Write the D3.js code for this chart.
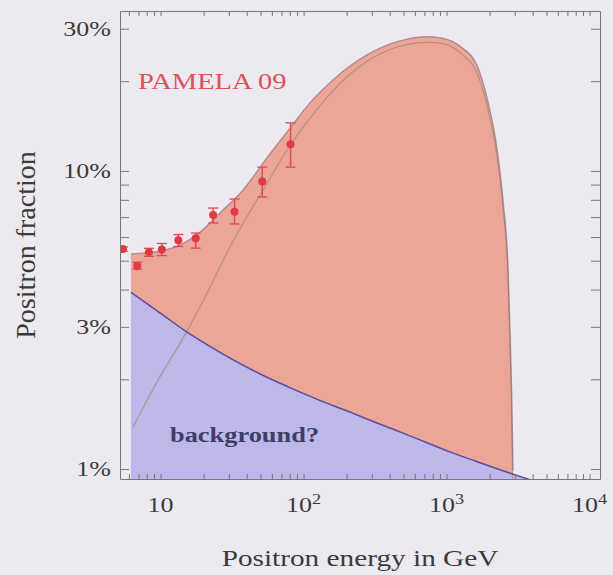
<!DOCTYPE html>
<html>
<head>
<meta charset="utf-8">
<script src="https://cdn.jsdelivr.net/npm/d3@7"></script>
<style>
  body { margin: 0; background: #eceaf0; }
  svg { display: block; }
  text { font-family: "Liberation Serif", "Times New Roman", serif; }
</style>
</head>
<body>
<div id="chart"></div>
<script>
// PAMELA 09 points, positron fraction in percent
var pamelaE   = [5.45, 6.87, 8.28, 10.2, 13.3, 17.6, 23.3, 32.9, 51.4, 81.1];
var pamelaVal = [5.47, 4.81, 5.34, 5.45, 5.85, 5.95, 7.12, 7.30, 9.21, 12.3];
var pamelaLo  = [5.38, 4.68, 5.17, 5.20, 5.58, 5.51, 6.69, 6.64, 8.18, 10.3];
var pamelaHi  = [5.56, 4.94, 5.50, 5.71, 6.12, 6.19, 7.51, 8.05, 10.3, 14.5];

// upper edge of the red region (signal + background)
var totalE   = [6.2, 7.8, 10, 13.7, 18.9, 26.0, 37.8, 55.4, 80.6, 110.6, 160.5, 277, 470, 723, 929, 1283, 1626, 1916, 2250, 2480, 2688, 2775, 2860, 2915];
var totalVal = [5.27, 5.31, 5.39, 5.65, 6.24, 7.23, 8.64, 11.06, 13.94, 16.92, 20.2, 24.5, 27.3, 28.2, 27.9, 25.9, 22.7, 17.6, 11.9, 7.99, 4.76, 2.93, 1.70, 0.99];

// thin signal line
var signalE   = [6.4, 9.5, 14.5, 20, 32.4, 52.6, 80.6, 110.6, 160.5, 277, 470, 723, 929, 1283, 1626, 1916, 2250, 2480, 2688, 2775, 2860, 2915];
var signalVal = [1.38, 1.97, 2.77, 3.69, 5.87, 8.7, 12.2, 15.0, 18.6, 23.3, 26.2, 27.0, 26.8, 24.6, 21.4, 16.6, 11.2, 7.5, 4.45, 2.62, 1.4, 0.7];

// background
var bgE   = [6.2, 10, 14.5, 22.4, 32.4, 50.1, 79.4, 126, 213, 316, 476, 708, 1067, 1585, 2388, 3864];
var bgVal = [3.92, 3.33, 2.93, 2.57, 2.32, 2.08, 1.88, 1.71, 1.55, 1.435, 1.33, 1.233, 1.14, 1.064, 0.993, 0.92];

var xTickVals = [6, 7, 8, 9, 10, 20, 30, 40, 50, 60, 70, 80, 90, 100, 200, 300, 400, 500, 600, 700, 800, 900,
                 1000, 2000, 3000, 4000, 5000, 6000, 7000, 8000, 9000, 10000];
var xLabelVals = [10, 100, 1000, 10000];
var xLabelExp  = ["", "2", "3", "4"];
var yTickVals = [1, 2, 3, 4, 5, 6, 7, 8, 9, 10, 20, 30];
var yLabelVals = [1, 3, 10, 30];
var yLabelText = ["1%", "3%", "10%", "30%"];

var width = 613, height = 575;
var plotLeft = 120, plotRight = 600, plotTop = 11, plotBottom = 479;

var x = d3.scaleLog().domain([5.2, 11830]).range([plotLeft, plotRight]);
var y = d3.scaleLog().domain([0.926, 34.4]).range([plotBottom, plotTop]);

var svg = d3.select("#chart").append("svg")
  .attr("width", width)
  .attr("height", height);

svg.append("defs").append("clipPath").attr("id", "clip")
  .append("rect")
  .attr("x", plotLeft).attr("y", plotTop)
  .attr("width", plotRight - plotLeft).attr("height", plotBottom - plotTop);

function pairs(es, vs) {
  return es.map(function(e, i) { return [e, vs[i]]; });
}

var area = d3.area()
  .x(function(d) { return x(d[0]); })
  .y0(plotBottom)
  .y1(function(d) { return y(d[1]); })
  .curve(d3.curveMonotoneX);

var line = d3.line()
  .x(function(d) { return x(d[0]); })
  .y(function(d) { return y(d[1]); })
  .curve(d3.curveMonotoneX);

var plot = svg.append("g").attr("clip-path", "url(#clip)");

var total = pairs(totalE, totalVal);
var signal = pairs(signalE, signalVal);
var bg = pairs(bgE, bgVal);

plot.append("path").attr("d", area(total)).attr("fill", "#eba698");
plot.append("path").attr("d", area(bg)).attr("fill", "#bdb8e9");
plot.append("path").attr("d", line(signal))
  .attr("fill", "none").attr("stroke", "#9c8a6a").attr("stroke-opacity", 0.7).attr("stroke-width", 1.2);
plot.append("path").attr("d", line(total))
  .attr("fill", "none").attr("stroke", "#94687a").attr("stroke-opacity", 0.65).attr("stroke-width", 1.4);
plot.append("path").attr("d", line(bg))
  .attr("fill", "none").attr("stroke", "#5a4c9c").attr("stroke-width", 1.5);

// PAMELA points with error bars
var pts = plot.append("g").selectAll("g")
  .data(pamelaE)
  .enter().append("g");

pts.append("line")
  .attr("x1", function(d) { return x(d); })
  .attr("x2", function(d) { return x(d); })
  .attr("y1", function(d, i) { return y(pamelaLo[i]); })
  .attr("y2", function(d, i) { return y(pamelaHi[i]); })
  .attr("stroke", "#e04a50").attr("stroke-width", 1.5);

[pamelaLo, pamelaHi].forEach(function(arr) {
  pts.append("line")
    .attr("x1", function(d) { return x(d) - 5; })
    .attr("x2", function(d) { return x(d) + 5; })
    .attr("y1", function(d, i) { return y(arr[i]); })
    .attr("y2", function(d, i) { return y(arr[i]); })
    .attr("stroke", "#e04a50").attr("stroke-width", 1.3);
});

pts.append("circle")
  .attr("cx", function(d) { return x(d); })
  .attr("cy", function(d, i) { return y(pamelaVal[i]); })
  .attr("r", 4)
  .attr("fill", "#e23a44");

// frame and ticks (all ticks point inward)
var axisColor = "#777";
svg.append("g").attr("transform", "translate(0," + plotBottom + ")").attr("color", axisColor)
  .call(d3.axisBottom(x).tickValues(xTickVals).tickSizeInner(-5).tickSizeOuter(0).tickFormat(""));
svg.append("g").attr("transform", "translate(0," + plotTop + ")").attr("color", axisColor)
  .call(d3.axisTop(x).tickValues(xTickVals).tickSizeInner(-5).tickSizeOuter(0).tickFormat(""));
svg.append("g").attr("transform", "translate(" + plotLeft + ",0)").attr("color", axisColor)
  .call(d3.axisLeft(y).tickValues(yTickVals).tickSizeInner(-9).tickSizeOuter(0).tickFormat(""));
svg.append("g").attr("transform", "translate(" + plotRight + ",0)").attr("color", axisColor)
  .call(d3.axisRight(y).tickValues(yTickVals).tickSizeInner(-9).tickSizeOuter(0).tickFormat(""));

// tick labels, stretched horizontally like the source picture
yLabelVals.forEach(function(v, i) {
  svg.append("g")
    .attr("transform", "translate(111," + (y(v) + 7) + ") scale(1.3,1)")
    .append("text")
    .attr("text-anchor", "end")
    .attr("font-size", 20)
    .attr("fill", "#3a3a3a")
    .text(yLabelText[i]);
});

xLabelVals.forEach(function(v, i) {
  var t = svg.append("g")
    .attr("transform", "translate(" + x(v) + ",512) scale(1.3,1)")
    .append("text")
    .attr("text-anchor", "middle")
    .attr("font-size", 20)
    .attr("fill", "#3a3a3a");
  t.append("tspan").text("10");
  if (xLabelExp[i]) {
    t.append("tspan").attr("dy", -8).attr("font-size", 14).text(xLabelExp[i]);
  }
});

// titles and annotations
svg.append("g").attr("transform", "translate(360,566) scale(1.22,1)")
  .append("text")
  .attr("text-anchor", "middle").attr("font-size", 24).attr("fill", "#3a3a3a")
  .text("Positron energy in GeV");

svg.append("text")
  .attr("transform", "translate(35,245) rotate(-90)")
  .attr("text-anchor", "middle").attr("font-size", 28).attr("fill", "#3a3a3a")
  .text("Positron fraction");

svg.append("g").attr("transform", "translate(138,89) scale(1.24,1)")
  .append("text")
  .attr("font-size", 23).attr("fill", "#e05058")
  .text("PAMELA 09");

svg.append("g").attr("transform", "translate(170,442) scale(1.32,1)")
  .append("text")
  .attr("font-size", 20).attr("font-weight", "bold").attr("fill", "#3e3e68")
  .text("background?");
</script>
</body>
</html>
